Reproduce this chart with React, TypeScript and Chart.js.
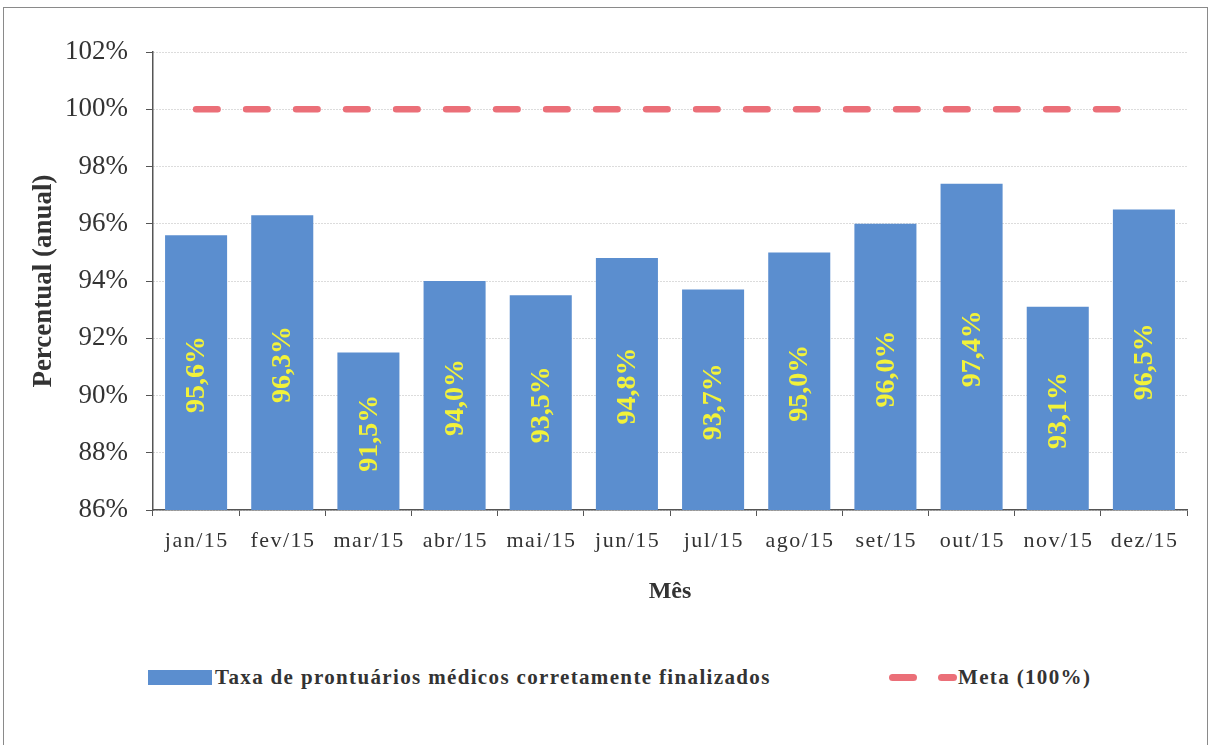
import React, { useEffect, useRef } from "react";
import { Chart, registerables } from "chart.js";

Chart.register(...registerables);

const months = ["jan/15", "fev/15", "mar/15", "abr/15", "mai/15", "jun/15", "jul/15", "ago/15", "set/15", "out/15", "nov/15", "dez/15"];
const taxa = [95.6, 96.3, 91.5, 94.0, 93.5, 94.8, 93.7, 95.0, 96.0, 97.4, 93.1, 96.5];
const meta = [100, 100, 100, 100, 100, 100, 100, 100, 100, 100, 100, 100];
const yMin = 86;
const yMax = 102;
const yStep = 2;

const serif = "'Liberation Serif', 'Times New Roman', serif";
const BAR = "#5b8ecf";
const RED = "#eb6f78";
const TEXT = "#333333";

const fmt = (v: number) => v.toFixed(1).replace(".", ",") + "%";

const labelPlugin = {
  id: "customLabels",
  afterDraw(chart: any) {
    const ctx = chart.ctx;
    const xs = chart.scales.x;
    const ys = chart.scales.y;

    // value labels inside bars
    ctx.save();
    ctx.font = `bold 28px ${serif}`;
    ctx.fillStyle = "#f2f23a";
    ctx.textAlign = "center";
    ctx.textBaseline = "middle";
    taxa.forEach((v, i) => {
      const x = xs.getPixelForValue(i);
      const top = ys.getPixelForValue(v);
      const base = ys.getPixelForValue(yMin);
      const cy = (top + base) / 2;
      ctx.save();
      ctx.translate(x + 1, cy + 2);
      ctx.rotate(-Math.PI / 2);
      ctx.fillText(fmt(v), 0, 0);
      ctx.restore();
    });
    ctx.restore();

    // category labels
    ctx.save();
    ctx.font = `22px ${serif}`;
    (ctx as any).letterSpacing = "1.5px";
    ctx.fillStyle = TEXT;
    ctx.textAlign = "center";
    ctx.textBaseline = "alphabetic";
    months.forEach((m, i) => {
      ctx.fillText(m, xs.getPixelForValue(i) + 0.75, 547);
    });
    ctx.restore();
  },
};

export default function App() {
  const ref = useRef<HTMLCanvasElement>(null);
  useEffect(() => {
    if (!ref.current) return;
    const chart = new Chart(ref.current, {
      type: "bar",
      data: {
        labels: months,
        datasets: [
          {
            type: "bar",
            label: "Taxa de prontuários médicos corretamente finalizados",
            data: taxa,
            backgroundColor: BAR,
            borderWidth: 0,
            barPercentage: 0.72,
            categoryPercentage: 1,
            order: 1,
          },
          {
            type: "line",
            label: "Meta (100%)",
            data: meta,
            borderColor: RED,
            borderWidth: 6.5,
            borderDash: [21.5, 28.5],
            borderCapStyle: "round",
            pointRadius: 0,
            fill: false,
            order: 0,
          } as any,
        ],
      },
      options: {
        responsive: false,
        animation: false,
        layout: { padding: { left: 20, right: 23, top: 52, bottom: 0 } },
        plugins: {
          legend: { display: false },
          tooltip: { enabled: false },
        },
        scales: {
          x: {
            afterFit: (s: any) => {
              s.height = 130;
            },
            ticks: { display: false },
            grid: {
              display: true,
              drawOnChartArea: false,
              drawTicks: true,
              tickLength: 6,
              tickColor: "#555",
              offset: true,
            },
            border: { color: "#555", width: 1.5 },
            title: {
              display: true,
              text: "Mês",
              color: TEXT,
              font: { family: serif, size: 24, weight: "bold" },
              padding: { top: 0, bottom: 34 },
            },
          },
          y: {
            min: yMin,
            max: yMax,
            afterFit: (s: any) => {
              s.width = 133;
            },
            ticks: {
              stepSize: yStep,
              padding: 18,
              color: TEXT,
              font: { family: serif, size: 27 },
              callback: (v: any) => v + "%",
            },
            grid: {
              color: "#b8b8b8",
              lineWidth: 1,
              tickLength: 7,
              tickColor: "#555",
              tickBorderDash: [],
            },
            border: { color: "#555", width: 1.5, dash: [1, 2] },
            title: {
              display: true,
              text: "Percentual (anual)",
              color: TEXT,
              font: { family: serif, size: 27, weight: "bold" },
              padding: { top: 8, bottom: 0 },
            },
          },
        },
      },
      plugins: [labelPlugin],
    });
    return () => chart.destroy();
  }, []);

  const legendText: React.CSSProperties = {
    position: "absolute",
    top: 665,
    height: 24,
    lineHeight: "24px",
    fontFamily: serif,
    fontWeight: "bold",
    fontSize: 21,
    letterSpacing: "1.35px",
    color: TEXT,
    whiteSpace: "nowrap",
  };

  return (
    <div style={{ position: "absolute", left: 0, top: 0, width: 1210, height: 745, overflow: "hidden", background: "#fff" }}>
      <div
        style={{
          position: "absolute",
          left: 3,
          top: 7,
          width: 1205,
          height: 800,
          boxSizing: "border-box",
          border: "1.5px solid #8a8a8a",
        }}
      />
      <canvas ref={ref} width={1210} height={640} style={{ position: "absolute", left: 0, top: 0, display: "block" }} />
      <div style={{ position: "absolute", left: 148, top: 670, width: 64, height: 15, background: BAR }} />
      <div style={{ ...legendText, left: 215 }}>Taxa de prontuários médicos corretamente finalizados</div>
      <div style={{ position: "absolute", left: 889, top: 674, width: 28, height: 7, borderRadius: 4, background: RED }} />
      <div style={{ position: "absolute", left: 938, top: 674, width: 19, height: 7, borderRadius: 4, background: RED }} />
      <div style={{ ...legendText, left: 958 }}>Meta (100%)</div>
    </div>
  );
}
